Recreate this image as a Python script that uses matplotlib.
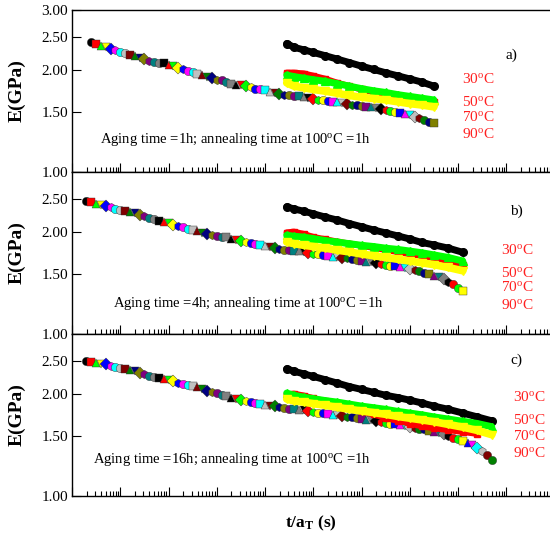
import numpy as np
import matplotlib
matplotlib.use("Agg")
import matplotlib.pyplot as plt
from matplotlib.ticker import LogLocator, FixedLocator, FormatStrFormatter, NullLocator, NullFormatter

plt.rcParams["font.family"] = "Liberation Serif"
plt.rcParams["mathtext.fontset"] = "custom"
plt.rcParams["mathtext.rm"] = "Liberation Serif"
plt.rcParams["mathtext.it"] = "Liberation Serif:italic"
plt.rcParams["mathtext.bf"] = "Liberation Serif:bold"

# log10 of reduced time t/aT for the master curve points
LOG_T_MASTER = [0.3, 0.4, 0.5, 0.6, 0.7, 0.8, 0.9, 1.0, 1.1, 1.2,
                1.3, 1.4, 1.5, 1.6, 1.7, 1.8, 1.9, 2.0, 2.1, 2.2,
                2.3, 2.4, 2.5, 2.6, 2.7, 2.8, 2.9, 3.0, 3.1, 3.2,
                3.3, 3.4, 3.5, 3.6, 3.7, 3.8, 3.9, 4.0, 4.1, 4.2,
                4.3, 4.4, 4.5, 4.6, 4.7, 4.8, 4.9, 5.0, 5.1, 5.2,
                5.3, 5.4, 5.5, 5.6, 5.7, 5.8, 5.9, 6.0, 6.1, 6.2,
                6.3, 6.4, 6.5, 6.6, 6.7, 6.8, 6.9, 7.0, 7.1, 7.2,
                7.3, 7.4, 7.5, 7.6, 7.7, 7.8, 7.9, 8.0, 8.1, 8.2,
                8.3, 8.4, 8.5, 8.6, 8.7]

# master curves E (GPa); aging 1h starts at 0.4, the others at 0.3
E_MASTER_1H = [2.42, 2.38, 2.35, 2.33, 2.31, 2.29, 2.26, 2.24, 2.21, 2.19,
               2.17, 2.15, 2.13, 2.11, 2.10, 2.09, 2.07, 2.05, 2.03, 2.01,
               1.99, 1.97, 1.95, 1.93, 1.91, 1.89, 1.87, 1.86, 1.84, 1.82,
               1.81, 1.80, 1.79, 1.78, 1.76, 1.75, 1.74, 1.72, 1.71, 1.70,
               1.69, 1.68, 1.675, 1.67, 1.66, 1.65, 1.645, 1.635, 1.63, 1.62,
               1.61, 1.605, 1.60, 1.59, 1.58, 1.575, 1.565, 1.555, 1.55, 1.54,
               1.53, 1.52, 1.51, 1.50, 1.49, 1.48, 1.47, 1.455, 1.44, 1.425,
               1.405, 1.39]
E_MASTER_4H = [2.47, 2.44, 2.42, 2.40, 2.38, 2.36, 2.34, 2.32, 2.30, 2.285,
               2.265, 2.24, 2.22, 2.20, 2.18, 2.155, 2.135, 2.12, 2.10, 2.085,
               2.065, 2.045, 2.025, 2.005, 1.99, 1.975, 1.96, 1.945, 1.935, 1.925,
               1.91, 1.895, 1.88, 1.865, 1.855, 1.84, 1.83, 1.815, 1.80, 1.79,
               1.78, 1.77, 1.765, 1.755, 1.75, 1.74, 1.73, 1.725, 1.715, 1.705,
               1.70, 1.69, 1.685, 1.675, 1.67, 1.66, 1.65, 1.64, 1.635, 1.625,
               1.615, 1.61, 1.60, 1.59, 1.585, 1.575, 1.565, 1.555, 1.545, 1.53,
               1.515, 1.50, 1.485, 1.47, 1.45, 1.425, 1.40, 1.37, 1.34]
E_MASTER_16H = [2.50, 2.485, 2.47, 2.45, 2.44, 2.42, 2.405, 2.39, 2.37, 2.35,
                2.33, 2.30, 2.28, 2.26, 2.24, 2.22, 2.205, 2.19, 2.175, 2.155,
                2.14, 2.12, 2.105, 2.09, 2.07, 2.045, 2.025, 2.005, 1.99, 1.97,
                1.95, 1.935, 1.915, 1.90, 1.89, 1.88, 1.865, 1.855, 1.845, 1.835,
                1.83, 1.82, 1.81, 1.805, 1.795, 1.79, 1.78, 1.77, 1.76, 1.755,
                1.745, 1.735, 1.73, 1.72, 1.71, 1.705, 1.695, 1.685, 1.675, 1.67,
                1.66, 1.655, 1.645, 1.635, 1.63, 1.62, 1.61, 1.60, 1.59, 1.58,
                1.57, 1.555, 1.545, 1.535, 1.52, 1.50, 1.485, 1.47, 1.45, 1.43,
                1.41, 1.385, 1.355, 1.32, 1.28]
MASTER_FIRST = [1, 0, 0]

# log10 t for the single-temperature curves after annealing
LOG_T_SHORT = [4.45, 4.6, 4.8, 5.0, 5.25, 5.5, 5.75, 6.0, 6.25, 6.5,
               6.75, 7.0, 7.25, 7.5, 7.8, 8.1, 8.4, 8.7]

E_30C_1H = [2.39, 2.33, 2.29, 2.25, 2.20, 2.15, 2.10, 2.05, 2.005, 1.96, 1.92, 1.88, 1.84, 1.79]
E_50C_1H = [1.96, 1.96, 1.95, 1.92, 1.88, 1.83, 1.79, 1.75, 1.72, 1.69, 1.66, 1.64, 1.62, 1.605]
E_70C_1H = [1.93, 1.91, 1.89, 1.87, 1.85, 1.82, 1.79, 1.76, 1.735, 1.715, 1.69, 1.67, 1.65, 1.63]
E_90C_1H = [1.83, 1.79, 1.77, 1.75, 1.73, 1.705, 1.68, 1.66, 1.645, 1.63, 1.61, 1.59, 1.575, 1.555]

E_30C_4H = [2.37, 2.335, 2.30, 2.26, 2.21, 2.165, 2.115, 2.07, 2.025, 1.985, 1.945, 1.905, 1.86, 1.83, 1.79, 1.74]
E_50C_4H = [1.99, 2.00, 1.97, 1.93, 1.90, 1.87, 1.845, 1.82, 1.795, 1.77, 1.745, 1.72, 1.70, 1.675, 1.64, 1.60]
E_70C_4H = [1.955, 1.94, 1.93, 1.91, 1.885, 1.865, 1.845, 1.825, 1.81, 1.79, 1.775, 1.755, 1.735, 1.71, 1.68, 1.64]
E_90C_4H = [1.865, 1.845, 1.825, 1.81, 1.79, 1.765, 1.745, 1.72, 1.70, 1.68, 1.66, 1.64, 1.62, 1.60, 1.57, 1.535]

E_30C_16H = [2.37, 2.33, 2.29, 2.25, 2.20, 2.15, 2.10, 2.06, 2.02, 1.98, 1.95, 1.915, 1.88, 1.84, 1.80, 1.755, 1.71, 1.665]
E_50C_16H = [1.99, 2.00, 1.975, 1.94, 1.90, 1.86, 1.815, 1.775, 1.74, 1.70, 1.665, 1.635, 1.605, 1.585, 1.565, 1.545, 1.525]
E_70C_16H = [2.01, 1.98, 1.955, 1.935, 1.91, 1.89, 1.865, 1.84, 1.82, 1.80, 1.775, 1.755, 1.735, 1.71, 1.685, 1.66, 1.635, 1.60]
E_90C_16H = [1.93, 1.905, 1.89, 1.87, 1.85, 1.825, 1.80, 1.78, 1.76, 1.74, 1.715, 1.695, 1.675, 1.655, 1.625, 1.595, 1.56, 1.515]

AGING = ["1h", "4h", "16h"]
PANEL_TAGS = ["a)", "b)", "c)"]
TEMPS = ["30", "50", "70", "90"]

# SigmaPlot-like symbol / colour cycles for the shifted segments
CYCLE_COLORS = ["#000000", "#ff0000", "#00ff00", "#ffff00", "#0000ff", "#ff00ff", "#00ffff",
                "#c0c0c0", "#800000", "#008000", "#000080", "#808000", "#800080", "#008080",
                "#808080"]
CYCLE_MARKERS = ["o", "s", "^", "v", "D", "h", "o"]

master = [E_MASTER_1H, E_MASTER_4H, E_MASTER_16H]
short = [[E_30C_1H, E_50C_1H, E_70C_1H, E_90C_1H],
         [E_30C_4H, E_50C_4H, E_70C_4H, E_90C_4H],
         [E_30C_16H, E_50C_16H, E_70C_16H, E_90C_16H]]
short_style = [("#000000", "o", 5.5, 5.0),
               ("#ff0000", "s", 5.0, 4.5),
               ("#00ff00", "^", 6.0, 5.0),
               ("#ffff00", "v", 6.0, 5.5)]

# layout in pixels of the 550x539 canvas
W, H = 550.0, 539.0
left, width, height = 72 / W, 482.5 / W, 162 / H
bottoms = [(H - 172) / H, (H - 334) / H, (H - 496) / H]
tag_pos = [(0.911, 0.722), (0.92, 0.759), (0.92, 0.84)]
temp_x = [0.808, 0.889, 0.913]
temp_y = [[0.574, 0.432, 0.340, 0.235],
          [0.519, 0.377, 0.290, 0.179],
          [0.611, 0.469, 0.370, 0.265]]
note_pos = [(0.058, 0.198), (0.085, 0.191), (0.043, 0.228)]

fig = plt.figure(figsize=(W / 100, H / 100), dpi=100)

for k in range(3):
    ax = fig.add_axes([left, bottoms[k], width, height])
    ax.set_xscale("log")
    ax.set_yscale("log")
    ax.set_xlim(1e0, 1e10)
    ax.set_ylim(1.0, 3.0)

    # master curve, each point coloured like its shifted segment
    e_m = master[k]
    t_m = 10 ** np.array(LOG_T_MASTER[MASTER_FIRST[k]:MASTER_FIRST[k] + len(e_m)])
    for i, (t, e) in enumerate(zip(t_m, e_m)):
        c = CYCLE_COLORS[i % len(CYCLE_COLORS)]
        m = CYCLE_MARKERS[i % len(CYCLE_MARKERS)]
        ax.plot([t], [e], marker=m, color=c, ms=6, mec="#303030", mew=0.3,
                ls="none", zorder=2)

    # single temperature curves
    for e_s, (c, m, ms, lw) in zip(short[k], short_style):
        t_s = 10 ** np.array(LOG_T_SHORT[:len(e_s)])
        ax.plot(t_s, e_s, color=c, lw=lw, marker=m, ms=ms, mec=c,
                solid_capstyle="round", solid_joinstyle="round", zorder=3)

    ax.xaxis.set_major_locator(LogLocator(base=10, numticks=20))
    ax.xaxis.set_minor_locator(LogLocator(base=10, subs=np.arange(2, 10), numticks=100))
    ax.xaxis.set_major_formatter(NullFormatter())
    ax.xaxis.set_minor_formatter(NullFormatter())
    ticks = [1.0, 1.5, 2.0, 2.5, 3.0] if k == 0 else [1.0, 1.5, 2.0, 2.5]
    ax.yaxis.set_major_locator(FixedLocator(ticks))
    ax.yaxis.set_major_formatter(FormatStrFormatter("%.2f"))
    ax.yaxis.set_minor_locator(NullLocator())
    ax.tick_params(axis="x", which="major", direction="in", length=6.5, width=0.8, top=False)
    ax.tick_params(axis="x", which="minor", direction="in", length=3.5, width=0.8, top=False)
    ax.tick_params(axis="y", which="major", direction="in", length=6.5, width=0.8,
                   pad=3, labelsize=11, right=False)
    for s in ax.spines.values():
        s.set_linewidth(1.0)

    ax.set_ylabel("E(GPa)", fontsize=14, fontweight="bold")
    ax.yaxis.set_label_coords(-0.097, 0.5)

    ax.text(*tag_pos[k], PANEL_TAGS[k], transform=ax.transAxes, fontsize=11,
            ha="center", va="center")
    for T, y in zip(TEMPS, temp_y[k]):
        ax.text(temp_x[k], y, T + r"$^{\rm o}$C", transform=ax.transAxes, fontsize=11,
                color="#ff2020", ha="left", va="center")
    ax.text(*note_pos[k],
            "Aging time =" + AGING[k] + r"; annealing time at 100$^{\rm o}$C =1h",
            transform=ax.transAxes, fontsize=10.5, ha="left", va="center")

fig.text(311 / W, (H - 523) / H, r"t/a$_{\mathbf{T}}$ (s)", fontsize=12.5,
         fontweight="bold", ha="center", va="center")

fig.savefig("out.png", dpi=100)
